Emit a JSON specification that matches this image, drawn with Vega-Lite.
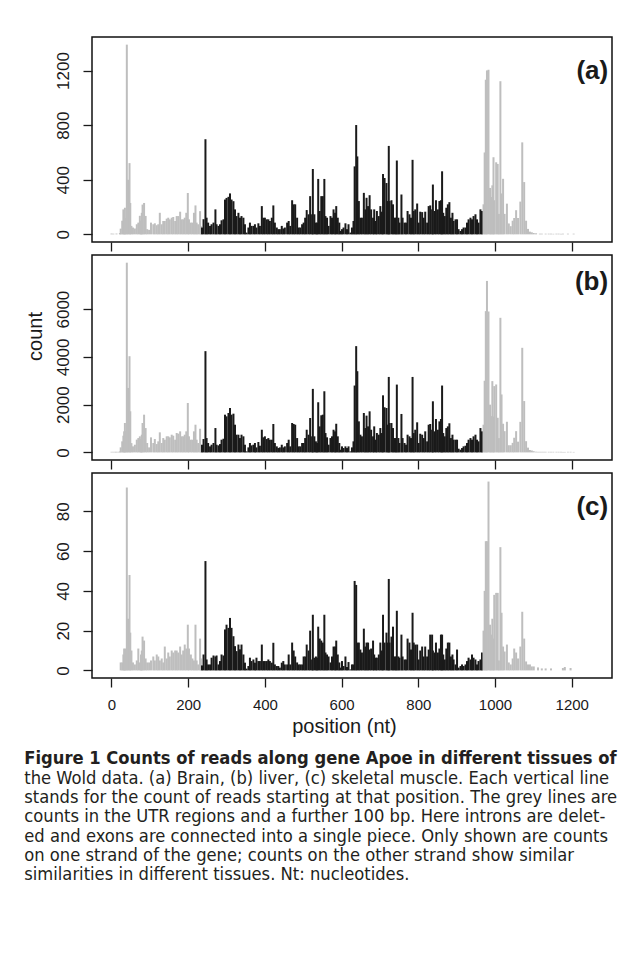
{
"$schema": "https://vega.github.io/schema/vega-lite/v6.json",
"background": "white",
"padding": {"left": 24, "top": 36, "right": 5, "bottom": 5},
"data": {"values": [
{"p":0,"r":"u","a":6,"b":25,"c":0},{"p":5,"r":"u","a":5,"b":25,"c":0},{"p":10,"r":"u","a":0,"b":25,"c":0},{"p":13,"r":"u","a":6,"b":25,"c":0},{"p":18,"r":"u","a":0,"b":25,"c":0},{"p":22,"r":"u","a":10,"b":40,"c":0},
{"p":24,"r":"u","a":42,"b":211,"c":4},{"p":28,"r":"u","a":100,"b":463,"c":4},{"p":31,"r":"u","a":183,"b":700,"c":8},{"p":33,"r":"u","a":150,"b":882,"c":11},{"p":35,"r":"u","a":195,"b":1232,"c":9},{"p":37,"r":"u","a":120,"b":900,"c":11},{"p":40,"r":"u","a":1390,"b":7944,"c":92},{"p":43,"r":"u","a":400,"b":2700,"c":26},{"p":47,"r":"u","a":522,"b":4028,"c":48},{"p":49,"r":"u","a":230,"b":1722,"c":19},{"p":52,"r":"u","a":62,"b":390,"c":10},{"p":56,"r":"u","a":50,"b":253,"c":4},{"p":61,"r":"u","a":43,"b":322,"c":3},{"p":66,"r":"u","a":74,"b":535,"c":5},{"p":70,"r":"u","a":86,"b":601,"c":11},{"p":74,"r":"u","a":136,"b":673,"c":4},{"p":77,"r":"u","a":100,"b":560,"c":8},{"p":79,"r":"u","a":158,"b":742,"c":10},{"p":81,"r":"u","a":218,"b":1232,"c":17},{"p":85,"r":"u","a":230,"b":1580,"c":15},{"p":89,"r":"u","a":135,"b":1020,"c":6},{"p":93,"r":"u","a":38,"b":393,"c":4},{"p":98,"r":"u","a":33,"b":210,"c":4},{"p":103,"r":"u","a":86,"b":630,"c":5},{"p":109,"r":"u","a":74,"b":393,"c":7},{"p":113,"r":"u","a":81,"b":560,"c":5},{"p":118,"r":"u","a":67,"b":350,"c":8},{"p":122,"r":"u","a":74,"b":463,"c":7},{"p":126,"r":"u","a":158,"b":840,"c":5},{"p":131,"r":"u","a":74,"b":393,"c":6},{"p":135,"r":"u","a":98,"b":601,"c":4},{"p":139,"r":"u","a":98,"b":532,"c":12},{"p":144,"r":"u","a":115,"b":673,"c":6},{"p":148,"r":"u","a":122,"b":673,"c":9},{"p":152,"r":"u","a":110,"b":630,"c":7},{"p":157,"r":"u","a":122,"b":742,"c":10},{"p":161,"r":"u","a":127,"b":700,"c":9},{"p":166,"r":"u","a":98,"b":532,"c":10},{"p":170,"r":"u","a":134,"b":812,"c":10},{"p":174,"r":"u","a":134,"b":785,"c":9},{"p":179,"r":"u","a":166,"b":882,"c":12},{"p":183,"r":"u","a":110,"b":673,"c":8},{"p":187,"r":"u","a":110,"b":673,"c":10},{"p":191,"r":"u","a":122,"b":742,"c":13},{"p":195,"r":"u","a":158,"b":882,"c":11},{"p":199,"r":"u","a":303,"b":2070,"c":23},{"p":202,"r":"u","a":110,"b":673,"c":11},{"p":207,"r":"u","a":86,"b":532,"c":8},{"p":211,"r":"u","a":86,"b":532,"c":6},{"p":215,"r":"u","a":158,"b":882,"c":5},{"p":219,"r":"u","a":212,"b":1160,"c":23},{"p":222,"r":"u","a":86,"b":532,"c":5},{"p":226,"r":"u","a":74,"b":393,"c":3},{"p":231,"r":"u","a":170,"b":990,"c":16},{"p":233,"r":"u","a":60,"b":300,"c":6},
{"p":236,"r":"e","a":50,"b":322,"c":2.5},{"p":240,"r":"e","a":111,"b":560,"c":8},{"p":245,"r":"e","a":697,"b":4240,"c":55},{"p":248,"r":"e","a":122,"b":601,"c":5.5},{"p":252,"r":"e","a":86,"b":393,"c":3},{"p":257,"r":"e","a":62,"b":253,"c":3},{"p":261,"r":"e","a":74,"b":322,"c":6.4},{"p":266,"r":"e","a":86,"b":393,"c":7.5},{"p":271,"r":"e","a":183,"b":1020,"c":7},{"p":274,"r":"e","a":74,"b":322,"c":7.5},{"p":279,"r":"e","a":62,"b":294,"c":3},{"p":283,"r":"e","a":74,"b":350,"c":4.7},{"p":287,"r":"e","a":103,"b":532,"c":8},{"p":292,"r":"e","a":110,"b":573,"c":7.5},{"p":296,"r":"e","a":255,"b":1580,"c":20.6},{"p":300,"r":"e","a":267,"b":1510,"c":23},{"p":305,"r":"e","a":275,"b":1650,"c":21.4},{"p":309,"r":"e","a":300,"b":1860,"c":26.4},{"p":313,"r":"e","a":255,"b":1580,"c":21.4},{"p":318,"r":"e","a":243,"b":1622,"c":17.2},{"p":322,"r":"e","a":183,"b":1160,"c":12.2},{"p":326,"r":"e","a":134,"b":742,"c":9.7},{"p":331,"r":"e","a":158,"b":742,"c":13},{"p":335,"r":"e","a":122,"b":601,"c":10.6},{"p":339,"r":"e","a":134,"b":742,"c":13},{"p":344,"r":"e","a":122,"b":673,"c":8},{"p":348,"r":"e","a":74,"b":322,"c":3.9},{"p":352,"r":"e","a":13,"b":43,"c":0.9},{"p":357,"r":"e","a":50,"b":210,"c":2.2},{"p":361,"r":"e","a":86,"b":393,"c":6.4},{"p":365,"r":"e","a":62,"b":294,"c":4.7},{"p":370,"r":"e","a":62,"b":322,"c":5.5},{"p":374,"r":"e","a":74,"b":393,"c":3.9},{"p":378,"r":"e","a":50,"b":210,"c":6.4},{"p":383,"r":"e","a":81,"b":435,"c":4.7},{"p":387,"r":"e","a":62,"b":280,"c":4.7},{"p":392,"r":"e","a":207,"b":950,"c":13},{"p":396,"r":"e","a":122,"b":632,"c":4.7},{"p":400,"r":"e","a":122,"b":673,"c":4.7},{"p":405,"r":"e","a":110,"b":560,"c":4.7},{"p":409,"r":"e","a":110,"b":601,"c":5.5},{"p":413,"r":"e","a":98,"b":532,"c":4.7},{"p":418,"r":"e","a":122,"b":532,"c":3.9},{"p":422,"r":"e","a":212,"b":1190,"c":13.9},{"p":426,"r":"e","a":86,"b":393,"c":3},{"p":431,"r":"e","a":50,"b":253,"c":2.2},{"p":435,"r":"e","a":38,"b":183,"c":2.2},{"p":439,"r":"e","a":38,"b":210,"c":1.4},{"p":444,"r":"e","a":62,"b":322,"c":3.9},{"p":448,"r":"e","a":43,"b":210,"c":4.7},{"p":452,"r":"e","a":50,"b":253,"c":3},
{"p":458,"r":"e","a":86,"b":393,"c":3},{"p":462,"r":"e","a":98,"b":532,"c":8},{"p":466,"r":"e","a":62,"b":253,"c":3},{"p":471,"r":"e","a":250,"b":1232,"c":14},{"p":475,"r":"e","a":220,"b":1190,"c":10},{"p":479,"r":"e","a":220,"b":1160,"c":7},{"p":484,"r":"e","a":122,"b":601,"c":4},{"p":488,"r":"e","a":50,"b":253,"c":3},{"p":492,"r":"e","a":50,"b":253,"c":3},{"p":497,"r":"e","a":74,"b":393,"c":3},{"p":501,"r":"e","a":86,"b":393,"c":7},{"p":505,"r":"e","a":122,"b":601,"c":7},{"p":509,"r":"e","a":178,"b":950,"c":13},{"p":514,"r":"e","a":147,"b":742,"c":10},{"p":518,"r":"e","a":280,"b":1440,"c":20},{"p":523,"r":"e","a":147,"b":673,"c":5.5},{"p":525,"r":"e","a":479,"b":2660,"c":28},{"p":529,"r":"e","a":147,"b":673,"c":6.4},{"p":533,"r":"e","a":86,"b":463,"c":7},{"p":536,"r":"e","a":86,"b":393,"c":6.4},{"p":539,"r":"e","a":406,"b":2100,"c":22},{"p":543,"r":"e","a":171,"b":1090,"c":16},{"p":547,"r":"e","a":280,"b":1554,"c":15},{"p":551,"r":"e","a":280,"b":1580,"c":14},{"p":555,"r":"e","a":406,"b":2560,"c":28},{"p":558,"r":"e","a":134,"b":811,"c":9},{"p":562,"r":"e","a":122,"b":631,"c":8},{"p":566,"r":"e","a":62,"b":323,"c":7},{"p":571,"r":"e","a":134,"b":601,"c":4},{"p":575,"r":"e","a":122,"b":673,"c":7},{"p":579,"r":"e","a":183,"b":950,"c":12},{"p":583,"r":"e","a":158,"b":882,"c":12},{"p":586,"r":"e","a":207,"b":1200,"c":15},{"p":590,"r":"e","a":122,"b":673,"c":8},{"p":594,"r":"e","a":86,"b":393,"c":4},{"p":597,"r":"e","a":25,"b":113,"c":1.4},{"p":601,"r":"e","a":38,"b":253,"c":4.7},{"p":605,"r":"e","a":50,"b":183,"c":2.2},{"p":610,"r":"e","a":81,"b":253,"c":7},{"p":614,"r":"e","a":38,"b":183,"c":1.7},{"p":618,"r":"e","a":74,"b":253,"c":4.2},{"p":623,"r":"e","a":13,"b":43,"c":0.5},{"p":627,"r":"e","a":50,"b":210,"c":3},{"p":631,"r":"e","a":98,"b":463,"c":3},{"p":634,"r":"e","a":498,"b":2800,"c":45},{"p":638,"r":"e","a":801,"b":4450,"c":43},{"p":641,"r":"e","a":571,"b":3400,"c":14},{"p":645,"r":"e","a":244,"b":1300,"c":14},{"p":649,"r":"e","a":122,"b":742,"c":10.5},{"p":653,"r":"e","a":122,"b":673,"c":9},{"p":658,"r":"e","a":304,"b":1650,"c":21},{"p":662,"r":"e","a":183,"b":1020,"c":12},{"p":665,"r":"e","a":268,"b":1540,"c":14},{"p":669,"r":"e","a":207,"b":1090,"c":14},{"p":673,"r":"e","a":287,"b":1720,"c":10.5},{"p":677,"r":"e","a":183,"b":950,"c":11},{"p":682,"r":"e","a":122,"b":673,"c":15},{"p":685,"r":"e","a":183,"b":1090,"c":8},{"p":689,"r":"e","a":98,"b":532,"c":6.4},{"p":692,"r":"e","a":171,"b":811,"c":6.4},{"p":697,"r":"e","a":134,"b":742,"c":8},{"p":701,"r":"e","a":207,"b":1020,"c":14},{"p":705,"r":"e","a":166,"b":811,"c":10},{"p":708,"r":"e","a":442,"b":2390,"c":28},{"p":712,"r":"e","a":413,"b":1890,"c":14},{"p":717,"r":"e","a":376,"b":1860,"c":19},{"p":720,"r":"e","a":244,"b":1160,"c":14},{"p":723,"r":"e","a":648,"b":3160,"c":46},{"p":725,"r":"e","a":244,"b":1230,"c":14},{"p":730,"r":"e","a":250,"b":1230,"c":17},{"p":734,"r":"e","a":220,"b":1020,"c":22},{"p":738,"r":"e","a":122,"b":601,"c":7},{"p":741,"r":"e","a":122,"b":601,"c":7},{"p":744,"r":"e","a":541,"b":2840,"c":30},{"p":748,"r":"e","a":122,"b":601,"c":7},{"p":751,"r":"e","a":86,"b":393,"c":6.4},{"p":756,"r":"e","a":292,"b":1610,"c":18},{"p":759,"r":"e","a":122,"b":601,"c":7},{"p":764,"r":"e","a":86,"b":393,"c":5.5},{"p":768,"r":"e","a":86,"b":323,"c":5.5},{"p":772,"r":"e","a":171,"b":742,"c":16},{"p":777,"r":"e","a":147,"b":673,"c":14},{"p":781,"r":"e","a":122,"b":601,"c":10.5},{"p":785,"r":"e","a":546,"b":3160,"c":29},{"p":788,"r":"e","a":171,"b":811,"c":14},{"p":792,"r":"e","a":183,"b":950,"c":13},{"p":797,"r":"e","a":226,"b":1260,"c":13},{"p":801,"r":"e","a":86,"b":393,"c":5.5},{"p":805,"r":"e","a":166,"b":782,"c":10},{"p":810,"r":"e","a":163,"b":742,"c":12},{"p":814,"r":"e","a":122,"b":601,"c":7},{"p":818,"r":"e","a":166,"b":882,"c":12},{"p":823,"r":"e","a":86,"b":463,"c":7},{"p":827,"r":"e","a":207,"b":1160,"c":10.5},{"p":831,"r":"e","a":212,"b":1190,"c":18},{"p":836,"r":"e","a":183,"b":950,"c":18},{"p":838,"r":"e","a":365,"b":2140,"c":10},{"p":842,"r":"e","a":171,"b":882,"c":9},{"p":846,"r":"e","a":250,"b":1400,"c":14},{"p":851,"r":"e","a":183,"b":950,"c":9},{"p":855,"r":"e","a":244,"b":1300,"c":11},{"p":859,"r":"e","a":250,"b":1400,"c":18},{"p":862,"r":"e","a":462,"b":2800,"c":18},{"p":865,"r":"e","a":158,"b":811,"c":8},{"p":869,"r":"e","a":134,"b":673,"c":5.5},{"p":873,"r":"e","a":195,"b":1020,"c":11},{"p":877,"r":"e","a":220,"b":1090,"c":14},{"p":881,"r":"e","a":236,"b":1220,"c":14},{"p":885,"r":"e","a":122,"b":601,"c":7},{"p":889,"r":"e","a":158,"b":742,"c":8},{"p":892,"r":"e","a":98,"b":532,"c":5.5},{"p":897,"r":"e","a":110,"b":532,"c":3},{"p":901,"r":"e","a":110,"b":532,"c":10.5},{"p":905,"r":"e","a":38,"b":155,"c":1.4},{"p":910,"r":"e","a":25,"b":113,"c":2.2},{"p":914,"r":"e","a":38,"b":183,"c":3},{"p":918,"r":"e","a":50,"b":253,"c":2.2},{"p":923,"r":"e","a":50,"b":280,"c":3},{"p":927,"r":"e","a":86,"b":393,"c":4.7},{"p":931,"r":"e","a":110,"b":532,"c":6.4},{"p":936,"r":"e","a":122,"b":601,"c":5.5},{"p":940,"r":"e","a":110,"b":532,"c":8},{"p":944,"r":"e","a":134,"b":673,"c":6.4},{"p":949,"r":"e","a":147,"b":742,"c":5.5},{"p":953,"r":"e","a":110,"b":532,"c":3},{"p":957,"r":"e","a":86,"b":463,"c":4.7},{"p":962,"r":"e","a":183,"b":1020,"c":5.5},{"p":966,"r":"e","a":171,"b":882,"c":9},
{"p":970,"r":"u","a":220,"b":1160,"c":20},{"p":973,"r":"u","a":600,"b":3000,"c":40},{"p":976,"r":"u","a":1133,"b":5915,"c":65},{"p":979,"r":"u","a":1201,"b":7180,"c":65},{"p":983,"r":"u","a":1206,"b":5900,"c":95},{"p":987,"r":"u","a":340,"b":2000,"c":23},{"p":990,"r":"u","a":274,"b":1520,"c":18},{"p":993,"r":"u","a":359,"b":2985,"c":26},{"p":996,"r":"u","a":565,"b":1500,"c":16},{"p":998,"r":"u","a":250,"b":2776,"c":38},{"p":1003,"r":"u","a":528,"b":2845,"c":39},{"p":1007,"r":"u","a":516,"b":1450,"c":39},{"p":1010,"r":"u","a":150,"b":600,"c":5},{"p":1014,"r":"u","a":1122,"b":5636,"c":62},{"p":1017,"r":"u","a":300,"b":2427,"c":29},{"p":1021,"r":"u","a":407,"b":1200,"c":12},{"p":1025,"r":"u","a":150,"b":890,"c":9.5},{"p":1031,"r":"u","a":225,"b":1283,"c":13},{"p":1036,"r":"u","a":80,"b":300,"c":4},{"p":1041,"r":"u","a":60,"b":300,"c":3},{"p":1046,"r":"u","a":100,"b":400,"c":6},{"p":1050,"r":"u","a":120,"b":614,"c":11},{"p":1055,"r":"u","a":177,"b":890,"c":9},{"p":1060,"r":"u","a":120,"b":450,"c":6},{"p":1066,"r":"u","a":240,"b":1280,"c":12},{"p":1071,"r":"u","a":674,"b":4380,"c":29.5},{"p":1076,"r":"u","a":383,"b":2150,"c":16},{"p":1081,"r":"u","a":100,"b":470,"c":4.5},{"p":1086,"r":"u","a":40,"b":200,"c":3},{"p":1091,"r":"u","a":20,"b":100,"c":3},{"p":1096,"r":"u","a":15,"b":80,"c":2},{"p":1101,"r":"u","a":10,"b":50,"c":2},{"p":1107,"r":"u","a":8,"b":30,"c":0},{"p":1112,"r":"u","a":0,"b":25,"c":1.5},{"p":1117,"r":"u","a":5,"b":25,"c":0},{"p":1122,"r":"u","a":5,"b":25,"c":1},{"p":1127,"r":"u","a":0,"b":25,"c":0},{"p":1132,"r":"u","a":5,"b":25,"c":1},{"p":1140,"r":"u","a":5,"b":25,"c":0},{"p":1146,"r":"u","a":5,"b":25,"c":1},{"p":1152,"r":"u","a":4,"b":25,"c":0},{"p":1160,"r":"u","a":5,"b":25,"c":0},{"p":1166,"r":"u","a":5,"b":25,"c":0},{"p":1172,"r":"u","a":4,"b":25,"c":0},{"p":1177,"r":"u","a":5,"b":20,"c":1.2},{"p":1182,"r":"u","a":0,"b":20,"c":1.7},{"p":1190,"r":"u","a":5,"b":25,"c":0},{"p":1197,"r":"u","a":0,"b":25,"c":1.2},{"p":1205,"r":"u","a":5,"b":20,"c":0}
]},
"vconcat": [
{"width": 520, "height": 205,
 "layer": [
  {"mark": {"type": "rule", "strokeWidth": 2},
   "encoding": {
    "x": {"field": "p", "type": "quantitative", "scale": {"domain": [-50.8, 1305], "nice": false, "zero": false}, "axis": {"values": [0,200,400,600,800,1000,1200], "labels": false, "title": null}},
    "y": {"field": "a", "type": "quantitative", "scale": {"domain": [-56, 1446], "nice": false, "zero": false}, "axis": {"values": [0,400,800,1200], "title": null}},
    "y2": {"datum": 0},
    "color": {"field": "r", "type": "nominal", "scale": {"domain": ["u","e"], "range": ["#bebebe","#1a1a1a"]}, "legend": null}}},
  {"data": {"values": [{"t": "(a)"}]},
   "mark": {"type": "text", "align": "right", "baseline": "middle", "fontSize": 26, "fontWeight": "bold", "font": "Liberation Sans", "color": "#1a1a1a"},
   "encoding": {"text": {"field": "t"}, "x": {"datum": 1295}, "y": {"datum": 1196}}}
 ]},
{"width": 520, "height": 205,
 "layer": [
  {"mark": {"type": "rule", "strokeWidth": 2},
   "encoding": {
    "x": {"field": "p", "type": "quantitative", "scale": {"domain": [-50.8, 1305], "nice": false, "zero": false}, "axis": {"values": [0,200,400,600,800,1000,1200], "labels": false, "title": null}},
    "y": {"field": "b", "type": "quantitative", "scale": {"domain": [-318, 8266], "nice": false, "zero": false}, "axis": {"values": [0,2000,4000,6000], "title": "count", "titlePadding": 9, "titleY": 81}},
    "y2": {"datum": 0},
    "color": {"field": "r", "type": "nominal", "scale": {"domain": ["u","e"], "range": ["#bebebe","#1a1a1a"]}, "legend": null}}},
  {"data": {"values": [{"t": "(b)"}]},
   "mark": {"type": "text", "align": "right", "baseline": "middle", "fontSize": 26, "fontWeight": "bold", "font": "Liberation Sans", "color": "#1a1a1a"},
   "encoding": {"text": {"field": "t"}, "x": {"datum": 1295}, "y": {"datum": 7121}}}
 ]},
{"width": 520, "height": 205,
 "layer": [
  {"mark": {"type": "rule", "strokeWidth": 2},
   "encoding": {
    "x": {"field": "p", "type": "quantitative", "scale": {"domain": [-50.8, 1305], "nice": false, "zero": false}, "axis": {"values": [0,200,400,600,800,1000,1200], "title": "position (nt)", "titlePadding": 4, "titleX": 252, "titleAlign": "center"}},
    "y": {"field": "c", "type": "quantitative", "scale": {"domain": [-3.82, 99.3], "nice": false, "zero": false}, "axis": {"values": [0,20,40,60,80], "title": null}},
    "y2": {"datum": 0},
    "color": {"field": "r", "type": "nominal", "scale": {"domain": ["u","e"], "range": ["#bebebe","#1a1a1a"]}, "legend": null}}},
  {"data": {"values": [{"t": "(c)"}]},
   "mark": {"type": "text", "align": "right", "baseline": "middle", "fontSize": 26, "fontWeight": "bold", "font": "Liberation Sans", "color": "#1a1a1a"},
   "encoding": {"text": {"field": "t"}, "x": {"datum": 1295}, "y": {"datum": 82}}}
 ]}
],
"spacing": 13,
"bounds": "flush",
"title": {
 "text": "Figure 1 Counts of reads along gene Apoe in different tissues of",
 "subtitle": ["the Wold data. (a) Brain, (b) liver, (c) skeletal muscle. Each vertical line", "stands for the count of reads starting at that position. The grey lines are", "counts in the UTR regions and a further 100 bp. Here introns are delet-", "ed and exons are connected into a single piece. Only shown are counts", "on one strand of the gene; counts on the other strand show similar", "similarities in different tissues. Nt: nucleotides."],
 "orient": "bottom", "anchor": "start", "frame": "bounds", "align": "left", "baseline": "top",
 "font": "DejaVu Sans Condensed", "fontSize": 18.2, "fontWeight": "bold", "color": "#231f20",
 "subtitleFont": "DejaVu Sans Condensed", "subtitleFontSize": 18.2, "subtitleColor": "#231f20", "subtitleLineHeight": 19.2, "subtitlePadding": 2,
 "offset": 13, "dx": 0
},
"config": {
 "view": {"stroke": "#111111", "strokeWidth": 1.5},
 "axis": {"labelFont": "Liberation Sans", "labelFontSize": 15, "labelColor": "#1a1a1a", "tickColor": "#1a1a1a", "tickWidth": 1.3, "tickSize": 9, "domain": false, "grid": false, "labelOverlap": false, "labelFlush": false, "format": "d", "titleFont": "Liberation Sans", "titleFontSize": 20, "titleFontWeight": "normal", "titleColor": "#1a1a1a"},
 "axisY": {"labelAngle": -90, "labelAlign": "center", "labelBaseline": "bottom", "labelPadding": 11, "labelFontSize": 17},
 "axisX": {"labelPadding": 10}
}
}
